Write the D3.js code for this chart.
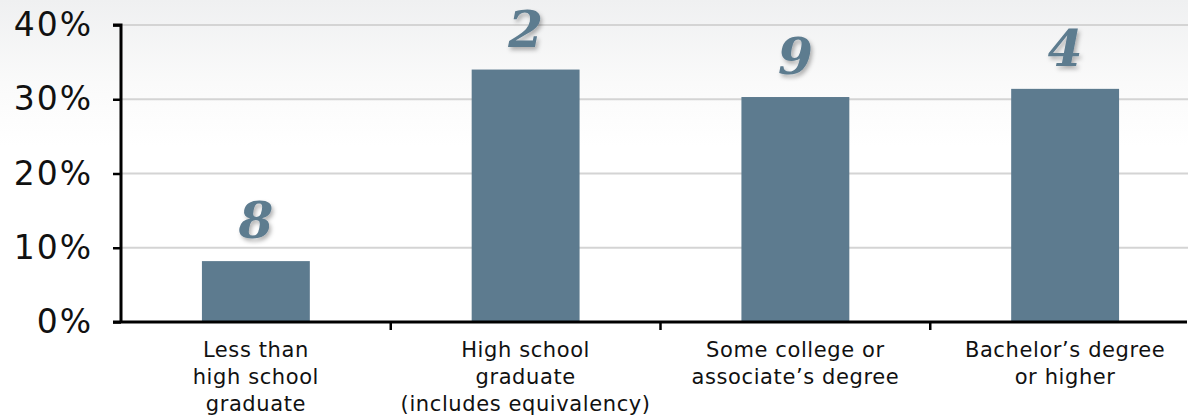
<!DOCTYPE html>
<html>
<head>
<meta charset="utf-8">
<script src="https://cdn.jsdelivr.net/npm/d3@7"></script>
<style>
    html, body { margin: 0; padding: 0; background: #fff; }
    #c { width: 1188px; height: 415px; }
</style>
</head>
<body>
<div id="c"></div>
<script>
"use strict";

const categories = [
    ["Less than", "high school", "graduate"],
    ["High school", "graduate", "(includes equivalency)"],
    ["Some college or", "associate\u2019s degree"],
    ["Bachelor\u2019s degree", "or higher"]
]
const values = [8.2, 34.0, 30.3, 31.4]
const rankLabels = ["8", "2", "9", "4"]
const yTicks = [0, 10, 20, 30, 40]

let svg
let xScale, yScale

window.onload = function() {
    createChart()
}

function createChart() {
    const W = 1188, H = 415
    const left = 121, right = 1200
    const top = 25, bottom = 322

    svg = d3.select('#c').append('svg')
        .attr('width', W).attr('height', H)

    // faint background wash at the very top
    let defs = svg.append('defs')
    let grad = defs.append('linearGradient')
        .attr('id', 'bg').attr('x1', 0).attr('y1', 0).attr('x2', 0).attr('y2', 1)
    grad.append('stop').attr('offset', '0%').attr('stop-color', '#eff0f1')
    grad.append('stop').attr('offset', '20%').attr('stop-color', '#fafafa')
    grad.append('stop').attr('offset', '35%').attr('stop-color', '#ffffff')
    svg.append('rect').attr('width', W).attr('height', H).attr('fill', 'url(#bg)')

    let shadow = defs.append('filter').attr('id', 'shadow')
        .attr('x', '-30%').attr('y', '-30%').attr('width', '160%').attr('height', '160%')
    shadow.append('feDropShadow')
        .attr('dx', 2).attr('dy', 3).attr('stdDeviation', 2)
        .attr('flood-color', '#000').attr('flood-opacity', 0.3)

    xScale = d3.scaleBand()
        .domain(d3.range(values.length))
        .range([left, right])
        .paddingInner(0.6).paddingOuter(0.3)
    yScale = d3.scaleLinear()
        .domain([0, 40])
        .range([bottom, top])

    // gridlines
    svg.append('g')
        .selectAll('line')
        .data(yTicks.filter(d => d > 0))
        .enter()
        .append('line')
            .attr('x1', left).attr('x2', W)
            .attr('y1', d => yScale(d)).attr('y2', d => yScale(d))
            .attr('stroke', '#d4d4d4')
            .attr('stroke-width', 2)

    // bars
    svg.append('g')
        .selectAll('rect')
        .data(values)
        .enter()
        .append('rect')
            .attr('x', (d, i) => xScale(i))
            .attr('y', d => yScale(d))
            .attr('width', xScale.bandwidth())
            .attr('height', d => yScale(0) - yScale(d))
            .attr('fill', '#5d7b8f')

    // rank numbers above bars
    svg.append('g')
        .selectAll('text')
        .data(values)
        .enter()
        .append('text')
            .text((d, i) => rankLabels[i])
            .attr('x', (d, i) => xScale(i) + xScale.bandwidth() / 2)
            .attr('y', d => yScale(d) - 23)
            .attr('text-anchor', 'middle')
            .style('font-family', '"DejaVu Serif", serif')
            .style('font-weight', 'bold')
            .style('font-style', 'italic')
            .style('font-size', '50px')
            .attr('fill', '#5d7b8f')
            .attr('filter', 'url(#shadow)')

    // y axis
    let yAxis = svg.append('g')
        .attr('transform', 'translate(' + left + ',0)')
        .call(d3.axisLeft(yScale)
            .tickValues(yTicks)
            .tickSize(8)
            .tickPadding(20)
            .tickFormat(d => d + '%'))
    yAxis.select('.domain').attr('stroke', '#000').attr('stroke-width', 3)
        .attr('d', 'M-8,' + top + 'H0V' + bottom)
    yAxis.selectAll('.tick line').attr('stroke', '#000').attr('stroke-width', 2.5)
    yAxis.selectAll('.tick text')
        .style('font-family', '"DejaVu Sans", sans-serif')
        .style('font-size', '33px')
        .style('letter-spacing', '2px')
        .attr('fill', '#111')

    // x axis
    let xAxis = svg.append('g')
        .attr('transform', 'translate(0,' + bottom + ')')
    xAxis.append('line')
        .attr('x1', left - 8).attr('x2', 1187)
        .attr('stroke', '#000').attr('stroke-width', 3)
    xAxis.selectAll('line.sep')
        .data(d3.range(1, values.length))
        .enter()
        .append('line')
            .attr('class', 'sep')
            .attr('x1', i => xScale(i) - xScale.bandwidth() * 0.75)
            .attr('x2', i => xScale(i) - xScale.bandwidth() * 0.75)
            .attr('y1', 0).attr('y2', 8)
            .attr('stroke', '#000').attr('stroke-width', 2.5)

    let labels = svg.append('g')
        .selectAll('text')
        .data(categories)
        .enter()
        .append('text')
            .attr('x', (d, i) => xScale(i) + xScale.bandwidth() / 2)
            .attr('y', 357)
            .attr('text-anchor', 'middle')
            .style('font-family', '"DejaVu Sans", sans-serif')
            .style('font-size', '21px')
            .style('letter-spacing', '0.6px')
            .attr('fill', '#111')
    labels.selectAll('tspan')
        .data(d => d)
        .enter()
        .append('tspan')
            .attr('x', function() { return d3.select(this.parentNode).attr('x') })
            .attr('dy', (d, i) => i == 0 ? 0 : 27)
            .text(d => d)
}
</script>
</body>
</html>
